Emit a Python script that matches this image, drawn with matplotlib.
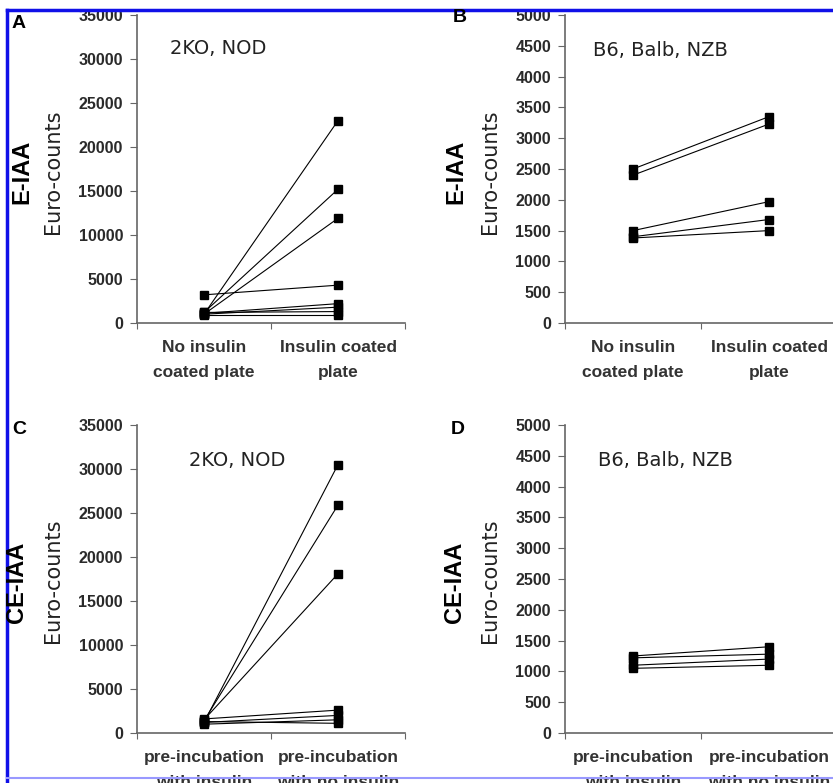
import matplotlib
matplotlib.use("Agg")
import matplotlib.pyplot as plt
from matplotlib.lines import Line2D

# panel A: E-IAA, 2KO / NOD
a_left = [1000, 1200, 1000, 3200, 1100, 1000, 1200, 900]
a_right = [23000, 15200, 11900, 4300, 2200, 1800, 1300, 900]
# panel B: E-IAA, B6 / Balb / NZB
b_left = [2500, 2400, 1500, 1400, 1380]
b_right = [3350, 3230, 1970, 1680, 1500]
# panel C: CE-IAA, 2KO / NOD
c_left = [1200, 1400, 1500, 1600, 1200, 1000, 1300]
c_right = [30500, 25900, 18100, 2600, 2000, 1500, 1100]
# panel D: CE-IAA, B6 / Balb / NZB
d_left = [1250, 1220, 1050, 1100]
d_right = [1400, 1280, 1100, 1200]

cats_top = ["No insulin\ncoated plate", "Insulin coated\nplate"]
cats_bot = ["pre-incubation\nwith insulin", "pre-incubation\nwith no insulin"]

W, H = 833, 783
fig = plt.figure(figsize=(W / 100, H / 100), dpi=100)
fig.patch.set_facecolor("white")

sans = ["Liberation Sans", "DejaVu Sans"]
wide = ["DejaVu Sans"]


def fx(px):
    return px / W


def fy(py):
    return 1 - py / H


def panel(x0, x1, ytop, ybot, left, right, ymax, ystep, cats, letter, group, ylab,
          letter_xy, group_xy, ylab_xy, eur_xy):
    ax = fig.add_axes([fx(x0), fy(ybot), fx(x1) - fx(x0), fy(ytop) - fy(ybot)])
    for l, r in zip(left, right):
        ax.plot([0.5, 1.5], [l, r], color="black", lw=0.8, marker="s", ms=5.5,
                mec="black", mfc="black")
    ax.set_xlim(0, 2)
    ax.set_ylim(0, ymax)
    ticks = list(range(0, ymax + 1, ystep))
    ax.set_yticks(ticks)
    ax.set_yticklabels([str(v) for v in ticks], family=sans, fontsize=11.5,
                       fontweight="bold", color="#2a2a2a")
    ax.set_xticks([0, 1, 2])
    ax.set_xticklabels([])
    ax.set_xticks([0.5, 1.5], minor=True)
    ax.set_xticklabels(cats, minor=True, family=sans, fontsize=12.5, fontweight="bold",
                       color="#333333", linespacing=1.85)
    ax.tick_params(axis="x", which="minor", length=0, pad=12)
    ax.tick_params(axis="x", which="major", length=4, direction="out", color="#666666")
    ax.tick_params(axis="y", length=5, direction="out", color="#666666", pad=5)
    for s in ("top", "right"):
        ax.spines[s].set_visible(False)
    for s in ("left", "bottom"):
        ax.spines[s].set_color("#666666")
        ax.spines[s].set_linewidth(1.2)
    fig.text(fx(letter_xy[0]), fy(letter_xy[1]), letter, fontsize=14, fontweight="bold",
             family=sans, ha="center", va="center")
    fig.text(fx(group_xy[0]), fy(group_xy[1]), group, fontsize=14, family=wide,
             ha="center", va="center", color="#222222")
    fig.text(fx(ylab_xy[0]), fy(ylab_xy[1]), ylab, rotation=90, fontsize=17,
             fontweight="bold", family=sans, ha="center", va="center")
    fig.text(fx(eur_xy[0]), fy(eur_xy[1]), "Euro-counts", rotation=90, fontsize=15,
             family=wide, ha="center", va="center", color="#222222")
    return ax


panel(137, 405, 15, 323, a_left, a_right, 35000, 5000, cats_top, "A", "2KO, NOD",
      "E-IAA", (19, 23), (218, 49), (22, 172), (53, 172))
panel(565, 837, 15, 323, b_left, b_right, 5000, 500, cats_top, "B", "B6, Balb, NZB",
      "E-IAA", (460, 18), (660, 51), (456, 172), (490, 172))
panel(137, 405, 425, 733, c_left, c_right, 35000, 5000, cats_bot, "C", "2KO, NOD",
      "CE-IAA", (19, 430), (237, 460), (17, 582), (53, 581))
panel(565, 837, 425, 733, d_left, d_right, 5000, 500, cats_bot, "D", "B6, Balb, NZB",
      "CE-IAA", (458, 430), (665, 460), (454, 582), (490, 581))

# blue frame from the source page
fig.add_artist(Line2D([fx(7), 1], [fy(10), fy(10)], color="#1010e8", lw=2.5))
fig.add_artist(Line2D([fx(7), fx(7)], [fy(10), 0], color="#1010e8", lw=2.5))
fig.add_artist(Line2D([fx(7), 1], [fy(778), fy(778)], color="#9999ff", lw=1.5))

fig.savefig("out.png", dpi=100, facecolor="white")
